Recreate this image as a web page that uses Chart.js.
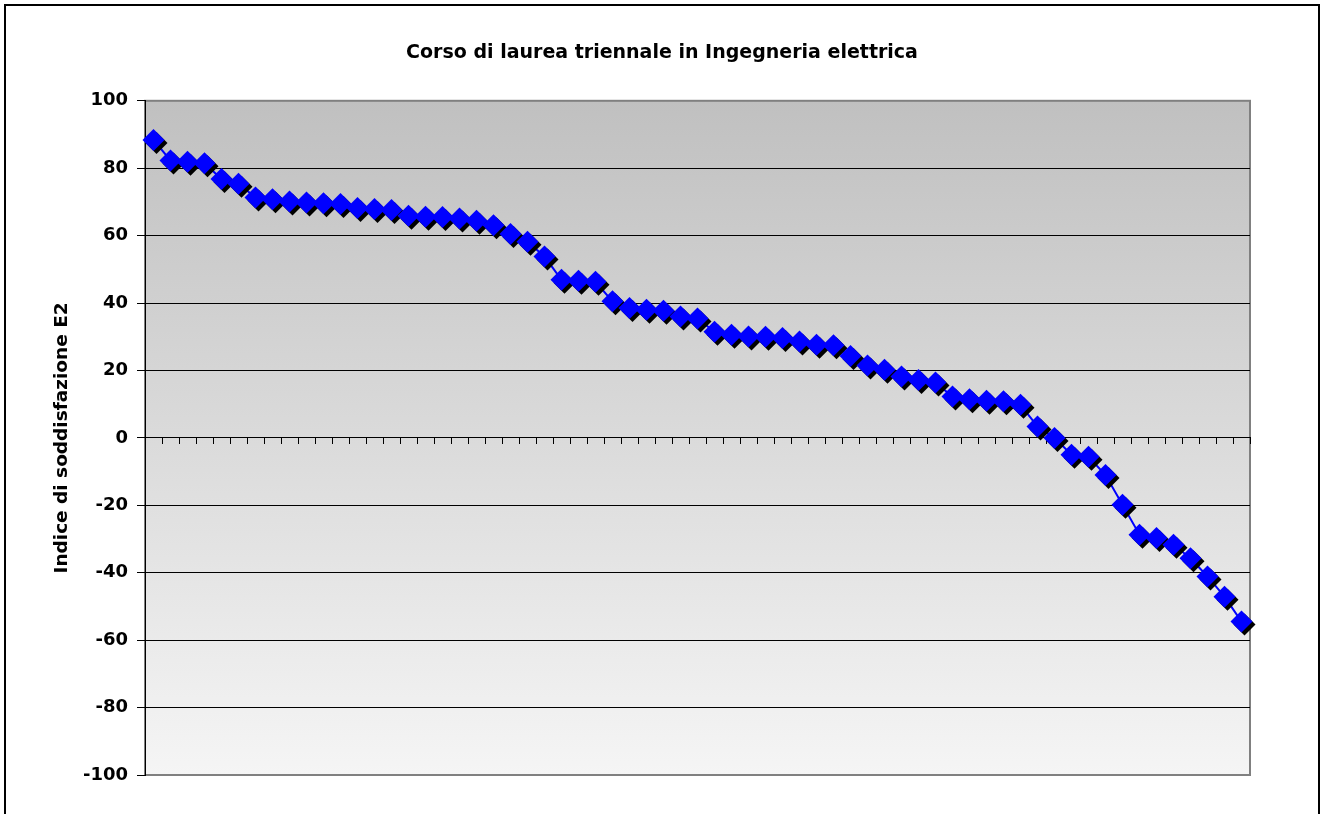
<!DOCTYPE html>
<html>
<head>
<meta charset="utf-8">
<script src="https://cdn.jsdelivr.net/npm/chart.js@4.4.1/dist/chart.umd.min.js"></script>
<style>
  html, body { margin: 0; padding: 0; background: #fff; }
  #wrap { position: relative; width: 1324px; height: 814px; }
</style>
</head>
<body>
<div id="wrap"><canvas id="grafico" width="1324" height="814"></canvas></div>
<script>
// Titoli
const chartTitle = 'Corso di laurea triennale in Ingegneria elettrica';
const yTitle = 'Indice di soddisfazione E2';

// Categorie (insegnamenti, senza etichetta sull'asse)
const categorie = Array.from({ length: 65 }, (_, i) => String(i + 1));

// Indice di soddisfazione E2
const indiceE2 = [
  88.4, 82.3, 81.9, 81.5, 76.8, 75.4, 71.3, 70.8, 70.1, 69.8,
  69.6, 69.4, 68.2, 67.9, 67.6, 65.9, 65.6, 65.5, 65.1, 64.4,
  63.1, 60.5, 58.2, 53.8, 46.9, 46.6, 46.3, 40.5, 38.5, 38.0,
  37.7, 36.0, 35.4, 31.5, 30.6, 30.1, 30.0, 29.6, 28.6, 27.6,
  27.5, 24.3, 21.5, 20.2, 18.2, 17.2, 16.4, 12.3, 11.5, 11.0,
  10.9, 9.8, 3.4, 0.0, -5.0, -5.6, -11.0, -19.8, -28.7, -29.7,
  -31.7, -35.7, -41.1, -47.1, -54.5
];

// Tacche asse Y
const yMin = -100;
const yMax = 100;
const yStep = 20;

const FONT = "'DejaVu Sans', Verdana, sans-serif";

// Sfondo dell'area del grafico (sfumatura grigia) e cornice esterna
const sfondoPlugin = {
  id: 'sfondo',
  beforeDraw(chart) {
    const { ctx, chartArea: a } = chart;
    ctx.save();
    const g = ctx.createLinearGradient(0, a.top, 0, a.bottom);
    g.addColorStop(0, '#c0c0c0');
    g.addColorStop(1, '#f5f5f5');
    ctx.fillStyle = g;
    ctx.fillRect(a.left, a.top, a.right - a.left, a.bottom - a.top);
    ctx.strokeStyle = '#808080';
    ctx.lineWidth = 2;
    ctx.strokeRect(a.left, a.top, a.right - a.left, a.bottom - a.top);
    ctx.restore();
  },
  afterDraw(chart) {
    const { ctx } = chart;
    ctx.save();
    ctx.strokeStyle = '#000';
    ctx.lineWidth = 2;
    ctx.strokeRect(5, 5, chart.width - 10, chart.height + 20);
    ctx.restore();
  }
};

// Ombra nera solo sotto i marcatori (come in Excel)
const ombraPlugin = {
  id: 'ombra',
  beforeDatasetDraw(chart, args) {
    const ctx = chart.ctx;
    ctx.save();
    if (args.index === 1) {
      ctx.shadowColor = '#000';
      ctx.shadowOffsetX = 3;
      ctx.shadowOffsetY = 3;
      ctx.shadowBlur = 0;
    }
  },
  afterDatasetDraw(chart) {
    chart.ctx.restore();
  }
};

new Chart(document.getElementById('grafico').getContext('2d'), {
  type: 'line',
  data: {
    labels: categorie,
    datasets: [{
      // linea
      label: yTitle,
      data: indiceE2,
      borderColor: '#0000ff',
      borderWidth: 2,
      pointRadius: 0,
      tension: 0,
      fill: false,
      order: 2
    }, {
      // marcatori a rombo
      label: yTitle,
      data: indiceE2,
      showLine: false,
      pointStyle: 'rectRot',
      pointRadius: 11,
      pointBorderWidth: 0,
      pointBackgroundColor: '#0000ff',
      pointBorderColor: '#0000ff',
      order: 1
    }]
  },
  options: {
    responsive: false,
    animation: false,
    layout: { padding: { left: 74, right: 74, top: 0, bottom: 39 } },
    plugins: {
      legend: { display: false },
      tooltip: { enabled: false },
      title: {
        display: true,
        text: chartTitle,
        color: '#000',
        font: { family: FONT, size: 19, weight: 'bold' },
        padding: { top: 42, bottom: 36 }
      }
    },
    scales: {
      x: {
        type: 'category',
        position: { y: 0 },
        offset: true,
        ticks: { display: false },
        grid: {
          display: true,
          drawOnChartArea: false,
          drawTicks: true,
          tickLength: 6,
          color: '#000',
          offset: true
        },
        border: { display: true, color: '#000', width: 1 }
      },
      y: {
        min: yMin,
        max: yMax,
        afterFit(scale) { scale.width = 71; },
        ticks: {
          stepSize: yStep,
          color: '#000',
          padding: 9,
          font: { family: FONT, size: 18, weight: 'bold' }
        },
        grid: {
          color: (c) => (c.tick && (c.tick.value === yMax || c.tick.value === yMin)) ? '#808080' : '#000',
          tickColor: '#000',
          tickLength: 8,
          lineWidth: 1
        },
        border: { display: true, color: '#000', width: 1 },
        title: {
          display: true,
          text: yTitle,
          color: '#000',
          padding: { top: -23, bottom: 0 },
          font: { family: FONT, size: 18.5, weight: 'bold' }
        }
      }
    }
  },
  plugins: [sfondoPlugin, ombraPlugin]
});
</script>
</body>
</html>
